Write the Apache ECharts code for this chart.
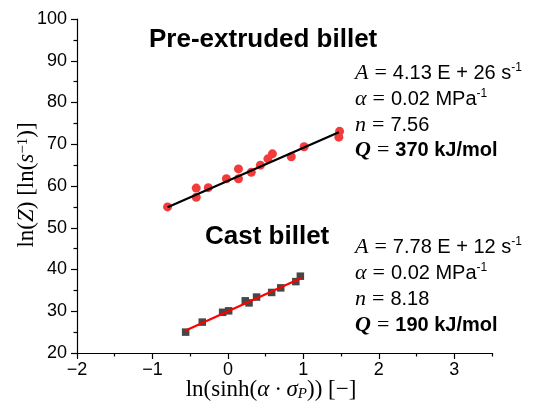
<!DOCTYPE html>
<html>
<head>
<meta charset="utf-8">
<script src="https://cdn.jsdelivr.net/npm/echarts@6/dist/echarts.min.js"></script>
<style>html,body{margin:0;padding:0;background:#fff}#c{width:536px;height:409px}</style>
</head>
<body>
<div id="c"></div>
<script>
// Pre-extruded billet (red circles)
const preX = [-0.80, -0.42, -0.42, -0.26, -0.02, 0.14, 0.14, 0.31, 0.43, 0.53, 0.59, 0.84, 1.01, 1.47, 1.48];
const preY = [55.0, 57.3, 59.5, 59.6, 61.75, 61.75, 64.1, 63.3, 65.0, 66.5, 67.7, 67.0, 69.4, 71.7, 73.1];
const preFitX = [-0.80, 1.47];
const preFitY = [54.9, 72.9];
// Cast billet (grey squares)
const castX = [-0.56, -0.34, -0.07, 0.01, 0.23, 0.28, 0.38, 0.58, 0.70, 0.90, 0.96];
const castY = [25.0, 27.4, 29.75, 30.1, 32.5, 32.0, 33.4, 34.5, 35.6, 37.1, 38.4];
const castFitX = [-0.56, 0.98];
const castFitY = [25.4, 38.0];
// Ticks
const xMajor = [-2, -1, 0, 1, 2, 3];
const xMinor = [-1.5, -0.5, 0.5, 1.5, 2.5, 3.5];

const zip = (a, b) => a.map((v, i) => [v, b[i]]);
const SANS = 'Liberation Sans';
const SERIF = 'Liberation Serif';

const chart = echarts.init(document.getElementById('c'), null, {renderer: 'canvas'});

const eqRich = {
  v: {fontFamily: SERIF, fontStyle: 'italic', fontSize: 22, color: '#000'},
  vb: {fontFamily: SERIF, fontStyle: 'italic', fontWeight: 'bold', fontSize: 22, color: '#000'},
  eq: {fontFamily: SERIF, fontSize: 22, color: '#000', padding: [0, 6, 0, 6]},
  t: {fontFamily: SANS, fontSize: 20, color: '#000'},
  tb: {fontFamily: SANS, fontSize: 20, fontWeight: 'bold', color: '#000'},
  sup: {fontFamily: SANS, fontSize: 12, color: '#000', verticalAlign: 'top'}
};

function eqText(x, y, text) {
  return {type: 'text', left: x, top: y, style: {text: text, rich: eqRich, textVerticalAlign: 'middle', verticalAlign: 'middle'}};
}

const option = {
  animation: false,
  backgroundColor: '#fff',
  grid: {left: 77, right: 44, top: 19, bottom: 56, containLabel: false},
  xAxis: [{
    type: 'value', min: -2, max: 3.5, interval: 1, position: 'bottom',
    axisLine: {show: true, onZero: false, lineStyle: {color: '#000', width: 1.2}},
    axisTick: {show: true, length: 6, customValues: xMajor, lineStyle: {color: '#000', width: 1.2}},
    axisLabel: {customValues: xMajor, margin: 8, fontFamily: SANS, fontSize: 18, color: '#000',
      formatter: v => (v < 0 ? '\u2212' + Math.abs(v) : String(v))},
    splitLine: {show: false}
  }, {
    type: 'value', min: -2, max: 3.5, position: 'bottom', gridIndex: 0,
    axisLine: {show: false, onZero: false},
    axisTick: {show: true, length: 3.5, customValues: xMinor, lineStyle: {color: '#000', width: 1.2}},
    axisLabel: {show: false},
    splitLine: {show: false}
  }],
  yAxis: {
    type: 'value', min: 20, max: 100, interval: 10,
    axisLine: {show: true, onZero: false, lineStyle: {color: '#000', width: 1.2}},
    axisTick: {show: true, length: 6, lineStyle: {color: '#000', width: 1.2}},
    minorTick: {show: true, splitNumber: 2, length: 3.5, lineStyle: {color: '#000', width: 1.2}},
    axisLabel: {margin: 10, fontFamily: SANS, fontSize: 18, color: '#000'},
    splitLine: {show: false}
  },
  series: [
    {type: 'line', data: zip(preFitX, preFitY), symbol: 'none', lineStyle: {color: '#000', width: 2.2}, z: 3},
    {type: 'scatter', data: zip(preX, preY), symbol: 'circle', symbolSize: 9, itemStyle: {color: '#F23C3C', opacity: 1}, z: 2},
    {type: 'scatter', data: zip(castX, castY), symbol: 'rect', symbolSize: 7.5, itemStyle: {color: '#474747', opacity: 1}, z: 2},
    {type: 'line', data: zip(castFitX, castFitY), symbol: 'none', lineStyle: {color: '#FF0000', width: 2.2}, z: 3}
  ],
  graphic: [
    {type: 'text', left: 149, top: 27, style: {text: 'Pre-extruded billet', fontFamily: SANS, fontWeight: 'bold', fontSize: 26, fill: '#000'}},
    {type: 'text', left: 205, top: 224, style: {text: 'Cast billet', fontFamily: SANS, fontWeight: 'bold', fontSize: 26, fill: '#000'}},
    eqText(355, 62, '{v|A}{eq|=}{t|4.13 E + 26 s}{sup|-1}'),
    eqText(355, 88, '{v|α}{eq|=}{t|0.02 MPa}{sup|-1}'),
    eqText(355, 114, '{v|n}{eq|=}{t|7.56}'),
    eqText(355, 139, '{vb|Q}{eq|=}{tb|370 kJ/mol}'),
    eqText(355, 236, '{v|A}{eq|=}{t|7.78 E + 12 s}{sup|-1}'),
    eqText(355, 262, '{v|α}{eq|=}{t|0.02 MPa}{sup|-1}'),
    eqText(355, 288, '{v|n}{eq|=}{t|8.18}'),
    eqText(355, 314, '{vb|Q}{eq|=}{tb|190 kJ/mol}'),
    {type: 'text', x: 271, y: 390, style: {
      text: '{r|ln(sinh(}{i|α · σ}{sub|P}{r|)) [−]}', align: 'center', verticalAlign: 'middle',
      rich: {r: {fontFamily: SERIF, fontSize: 23, color: '#000'},
             i: {fontFamily: SERIF, fontStyle: 'italic', fontSize: 23, color: '#000'},
             sub: {fontFamily: SERIF, fontStyle: 'italic', fontSize: 15, color: '#000', verticalAlign: 'bottom'}}}},
    {type: 'text', x: 27, y: 185, rotation: Math.PI / 2, style: {
      text: '{r|ln(}{i|Z}{r|) [ln(}{i|s}{sup|−1}{r|)]}', align: 'center', verticalAlign: 'middle',
      rich: {r: {fontFamily: SERIF, fontSize: 23, color: '#000'},
             i: {fontFamily: SERIF, fontStyle: 'italic', fontSize: 23, color: '#000'},
             sup: {fontFamily: SERIF, fontSize: 15, color: '#000', verticalAlign: 'top'}}}}
  ]
};
chart.setOption(option);
</script>
</body>
</html>
